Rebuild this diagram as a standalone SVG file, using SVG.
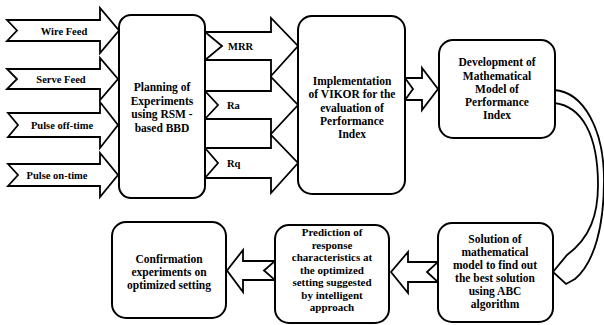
<svg xmlns="http://www.w3.org/2000/svg" width="604" height="325" viewBox="0 0 604 325">
<style>
.box{fill:#fff;stroke:#000;stroke-width:2}
.arr{fill:#fff;stroke:#000;stroke-width:1.8;stroke-linejoin:miter}
.t{font-family:"Liberation Serif","Times New Roman",serif;font-weight:bold;font-size:11.5px;fill:#000;text-anchor:middle}
.s{font-size:11px}
.l{font-family:"Liberation Serif","Times New Roman",serif;font-weight:bold;font-size:10.5px;fill:#000}
</style>
<rect width="604" height="325" fill="#fff"/>
<g id="connectors">
<polygon class="arr" points="7,20 100,20 100,8 119,30.5 100,53 100,41 7,41 17,30.5"/>
<polygon class="arr" points="7,69 100,69 100,58 118,79 100,100 100,89 7,89 17,79"/>
<polygon class="arr" points="8,113 100,113 100,102 118,125 100,148 100,137 8,137 18,125"/>
<polygon class="arr" points="8,164 100,164 100,153 118,175 100,197 100,186 8,186 18,175"/>
<polygon class="arr" points="205,32 271,32 271,18 298,46 271,76 271,60 205,60 222,46"/>
<polygon class="arr" points="205,91 271,91 271,77 298,105 271,134 271,119 205,119 218,105"/>
<polygon class="arr" points="205,148 271,148 271,135 298,163 271,193 271,178 205,178 218,163"/>
<polygon class="arr" points="405,78 422,78 422,68 438,89 422,110 422,100 405,100 413,89"/>
<polygon class="arr" points="438,262 408,262 408,252 391,272 408,293 408,282 438,282 427,272"/>
<polygon class="arr" points="275,261 243,261 243,250 227,270.5 243,292 243,280 275,280 264,270.5"/>
<path class="arr" d="M554,90 C584,92 604,130 604,180 C604,225 595,262 575,279 L566,284 L553,272 L567,255 C590,238 598,215 598,185 C598,135 582,106 554,103 Z"/>
<text class="l" x="64" y="34.5" text-anchor="middle">Wire Feed</text>
<text class="l" x="61" y="83" text-anchor="middle">Serve Feed</text>
<text class="l" x="62" y="129" text-anchor="middle">Pulse off-time</text>
<text class="l" x="57" y="179" text-anchor="middle">Pulse on-time</text>
<text class="l" x="228" y="50">MRR</text>
<text class="l" x="227" y="109">Ra</text>
<text class="l" x="227" y="167">Rq</text>
</g>
<g id="planning">
<rect class="box" x="119" y="15" width="86" height="183" rx="12"/>
<text class="t" x="162" y="91">Planning of</text>
<text class="t" x="162" y="104.5">Experiments</text>
<text class="t" x="162" y="118">using RSM -</text>
<text class="t" x="162" y="131.5">based BBD</text>
</g>
<g id="vikor">
<rect class="box" x="298" y="16" width="107" height="178" rx="14"/>
<text class="t" x="352" y="85">Implementation</text>
<text class="t" x="352" y="98">of VIKOR for the</text>
<text class="t" x="352" y="111.5">evaluation of</text>
<text class="t" x="352" y="125">Performance</text>
<text class="t" x="352" y="138">Index</text>
</g>
<g id="development">
<rect class="box" x="439" y="40" width="116" height="98" rx="14"/>
<text class="t" x="497" y="66">Development of</text>
<text class="t" x="497" y="79.5">Mathematical</text>
<text class="t" x="497" y="93">Model of</text>
<text class="t" x="497" y="106">Performance</text>
<text class="t" x="497" y="119">Index</text>
</g>
<g id="solution">
<rect class="box" x="438" y="223" width="115" height="99" rx="14"/>
<text class="t" x="495" y="243">Solution of</text>
<text class="t" x="495" y="256">mathematical</text>
<text class="t" x="495" y="269">model to find out</text>
<text class="t" x="495" y="282">the best solution</text>
<text class="t" x="495" y="295">using ABC</text>
<text class="t" x="495" y="307.5">algorithm</text>
</g>
<g id="prediction">
<rect class="box" x="275" y="225" width="114" height="98" rx="14"/>
<text class="t s" x="332" y="236">Prediction of</text>
<text class="t s" x="332" y="248.5">response</text>
<text class="t s" x="332" y="261">characteristics at</text>
<text class="t s" x="332" y="273.5">the optimized</text>
<text class="t s" x="332" y="286">setting suggested</text>
<text class="t s" x="332" y="298.5">by intelligent</text>
<text class="t s" x="332" y="311">approach</text>
</g>
<g id="confirmation">
<rect class="box" x="112" y="222" width="114" height="96" rx="14"/>
<text class="t" x="169" y="263">Confirmation</text>
<text class="t" x="169" y="276">experiments on</text>
<text class="t" x="169" y="288.5">optimized setting</text>
</g>
</svg>
